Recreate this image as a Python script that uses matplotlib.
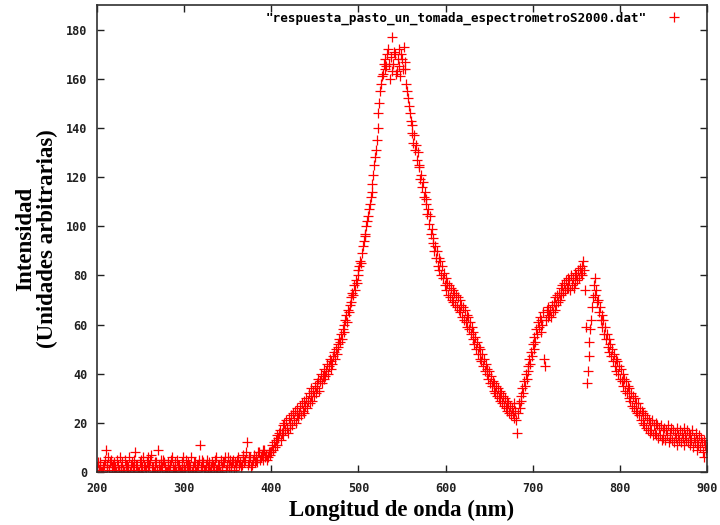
import numpy as np
import matplotlib
matplotlib.use("Agg")
import matplotlib.pyplot as plt
from matplotlib.font_manager import FontProperties

# wavelength grid (nm), 1 nm steps
wavelength_start = 200
wavelength_stop = 900

intensity = [
    # 200
    2, 4, 1, 3, 4, 0, 0, 2, 3, 5,
    9, 3, 2, 6, 1, 4, 5, 2, 3, 0,
    4, 2, 0, 5, 3, 1, 6, 2, 2, 4,
    1, 0, 5, 3, 3, 1, 2, 6, 0, 3,
    4, 2, 1, 5, 8, 3, 3, 0, 0, 4,
    5, 1, 2, 6, 3, 2, 1, 4, 6, 2,
    3, 5, 7, 2, 2, 0, 0, 4, 4, 1,
    9, 3, 1, 5, 3, 2, 5, 4, 2, 0,
    0, 3, 4, 1, 3, 5, 6, 2, 1, 4,
    2, 0, 5, 3, 3, 1, 0, 2, 4, 6,
    # 300
    2, 1, 5, 3, 1, 4, 3, 2, 6, 0,
    2, 4, 4, 1, 0, 3, 3, 5, 11, 2,
    2, 5, 4, 1, 1, 3, 5, 2, 3, 4,
    0, 2, 4, 3, 2, 5, 6, 1, 1, 3,
    3, 0, 5, 2, 2, 4, 4, 6, 1, 3,
    6, 2, 3, 5, 2, 4, 5, 1, 4, 3,
    2, 5, 6, 3, 4, 2, 3, 6, 7, 4,
    5, 8, 12, 3, 4, 6, 6, 2, 3, 5,
    7, 4, 5, 6, 4, 8, 8, 5, 6, 7,
    5, 9, 9, 6, 7, 5, 6, 8, 8, 7,
    # 400
    8, 11, 9, 12, 10, 13, 15, 11, 14, 16,
    17, 13, 16, 19, 15, 20, 17, 21, 18, 16,
    22, 18, 20, 23, 19, 24, 21, 25, 20, 23,
    26, 22, 24, 27, 23, 28, 25, 29, 24, 27,
    30, 26, 29, 32, 28, 31, 34, 29, 33, 31,
    35, 32, 36, 34, 38, 33, 37, 40, 36, 39,
    38, 42, 39, 41, 44, 40, 43, 46, 42, 45,
    44, 47, 49, 46, 50, 48, 52, 51, 54, 53,
    56, 54, 58, 60, 57, 62, 64, 61, 66, 65,
    68, 71, 69, 73, 72, 76, 74, 78, 77, 80,
    # 500
    82, 84, 86, 85, 89, 92, 94, 97, 96, 100,
    102, 104, 107, 109, 112, 114, 117, 121, 125, 128,
    131, 135, 140, 146, 150, 155, 158, 161, 162, 166,
    168, 164, 165, 170, 172, 166, 160, 169, 177, 163,
    166, 171, 170, 162, 163, 168, 172, 165, 161, 170,
    168, 164, 173, 167, 164, 158, 155, 152, 149, 146,
    143, 138, 141, 134, 137, 131, 133, 127, 130, 124,
    125, 119, 121, 116, 118, 112, 114, 109, 111, 105,
    107, 101, 104, 97, 99, 93, 95, 90, 92, 87,
    90, 84, 87, 82, 86, 80, 84, 79, 81, 76,
    # 600
    79, 74, 77, 72, 76, 71, 75, 70, 74, 69,
    73, 68, 72, 67, 71, 66, 70, 65, 68, 63,
    67, 62, 66, 61, 64, 59, 63, 58, 61, 56,
    59, 54, 57, 52, 55, 50, 53, 48, 51, 46,
    50, 45, 48, 43, 46, 41, 44, 40, 42, 38,
    41, 36, 39, 35, 37, 33, 36, 32, 35, 31,
    34, 30, 33, 29, 32, 28, 31, 27, 30, 26,
    29, 25, 28, 24, 27, 23, 26, 24, 28, 22,
    25, 21, 16, 24, 28, 26, 31, 29, 34, 32,
    37, 35, 40, 38, 43, 41, 46, 44, 49, 47,
    # 700
    52, 50, 55, 53, 58, 56, 61, 59, 63, 57,
    62, 60, 65, 46, 43, 62, 66, 63, 67, 64,
    66, 63, 68, 65, 69, 66, 71, 68, 72, 69,
    73, 70, 75, 72, 76, 73, 77, 74, 78, 75,
    79, 75, 78, 74, 80, 76, 79, 75, 81, 77,
    80, 78, 82, 79, 83, 81, 84, 80, 86, 82,
    74, 59, 36, 41, 47, 53, 58, 62, 67, 71,
    76, 79, 72, 74, 69, 70, 65, 67, 62, 64,
    59, 62, 56, 59, 54, 56, 51, 54, 49, 52,
    47, 50, 45, 48, 43, 46, 41, 45, 40, 43,
    # 800
    38, 42, 37, 40, 35, 38, 33, 37, 32, 35,
    30, 34, 29, 32, 27, 31, 26, 30, 25, 28,
    24, 28, 23, 26, 21, 25, 20, 24, 19, 23,
    18, 22, 17, 21, 16, 20, 17, 21, 15, 19,
    16, 20, 15, 19, 14, 18, 15, 19, 13, 17,
    14, 18, 13, 17, 15, 19, 12, 16, 14, 18,
    13, 17, 12, 16, 14, 18, 11, 15, 13, 17,
    12, 16, 14, 18, 11, 15, 13, 17, 12, 16,
    11, 15, 13, 17, 10, 14, 12, 16, 9, 13,
    11, 15, 10, 14, 12, 8, 13, 6, 11, 9,
    # 900
    10,
]

wavelength = np.arange(wavelength_start, wavelength_stop + 1)

x_ticks = [200, 300, 400, 500, 600, 700, 800, 900]
y_ticks = [0, 20, 40, 60, 80, 100, 120, 140, 160, 180]
legend_label = '"respuesta_pasto_un_tomada_espectrometroS2000.dat"'

fig = plt.figure(figsize=(7.2, 5.25), dpi=100)
ax = fig.add_axes([0.1347, 0.101, 0.982 - 0.1347, 0.9905 - 0.101])

ax.plot(wavelength, intensity, linestyle='none', marker='+', color='#ff0000',
        markersize=7.5, markeredgewidth=0.9, label=legend_label, clip_on=True)

ax.set_xlim(200, 900)
ax.set_ylim(0, 190)
ax.set_xticks(x_ticks)
ax.set_yticks(y_ticks)

mono = FontProperties(family='DejaVu Sans Mono', weight='bold', size=8.5)
for lab in ax.get_xticklabels() + ax.get_yticklabels():
    lab.set_fontproperties(mono)

ax.tick_params(direction='in', length=5, width=1, top=True, right=True,
               colors='#202020', pad=7)
for s in ax.spines.values():
    s.set_linewidth(1.2)
    s.set_color('#303030')

serif = FontProperties(family='Liberation Serif', weight='bold', size=16.5)
ax.set_xlabel('Longitud de onda (nm)', fontproperties=serif, labelpad=4)
ax.set_ylabel('Intensidad\n(Unidades arbitrarias)', fontproperties=serif,
              labelpad=6, linespacing=1.0)

leg = ax.legend(loc='upper right', frameon=False, markerfirst=False,
                prop=FontProperties(family='DejaVu Sans Mono', weight='bold', size=9.1),
                handlelength=1.5, handletextpad=1.4, borderaxespad=0.3,
                borderpad=0.2, bbox_to_anchor=(0.972, 1.0))

fig.savefig('out.png', dpi=100)
